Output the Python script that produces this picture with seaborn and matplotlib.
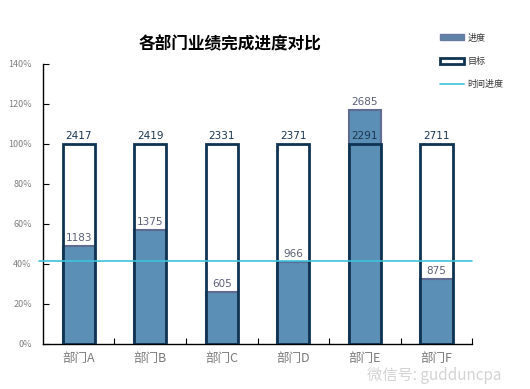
import matplotlib
matplotlib.use("Agg")
import matplotlib.pyplot as plt
import seaborn as sns
import pandas as pd
from matplotlib.patches import Patch
from matplotlib.lines import Line2D
from matplotlib.ticker import PercentFormatter

sns.set_theme(style="white")
plt.rcParams['font.family'] = ['Noto Sans CJK SC', 'DejaVu Sans']

departments = ["部门A", "部门B", "部门C", "部门D", "部门E", "部门F"]
targets = [2417, 2419, 2331, 2371, 2291, 2711]
actuals = [1183, 1375, 605, 966, 2685, 875]
time_progress = 41.5  # percent

progress_pct = [a / t * 100 for a, t in zip(actuals, targets)]
target_pct = [100] * len(targets)
df = pd.DataFrame({"部门": departments, "进度": progress_pct, "目标": target_pct})

fig = plt.figure(figsize=(5.3, 3.89), dpi=100)
ax = fig.add_axes([0.081, 0.1157, 0.81, 0.72])

blue = "#5b8fb5"
blue_edge = "#5f6b92"
dark = "#0f3352"
line_c = "#3cc4dc"

sns.barplot(data=df, x="部门", y="进度", color=blue, width=0.45, ax=ax,
            edgecolor=blue_edge, linewidth=1.5, saturation=1, zorder=2)
sns.barplot(data=df, x="部门", y="目标", width=0.45, ax=ax, fill=False,
            color=dark, linewidth=2, zorder=3)

ax.axhline(time_progress, xmin=-0.008, xmax=1.0, color=line_c, linewidth=1.2,
           zorder=4, clip_on=False)

for i, (a, t, p) in enumerate(zip(actuals, targets, progress_pct)):
    ax.text(i, 101.5, f"{t}", ha="center", va="bottom", fontsize=7.5,
            color="#1c3550", family="DejaVu Sans", zorder=5)
    ax.text(i, p + 1.5, f"{a}", ha="center", va="bottom", fontsize=7.5,
            color="#5a607a", family="DejaVu Sans", zorder=5)

ax.set_ylim(0, 140)
ax.set_yticks(range(0, 141, 20))
ax.yaxis.set_major_formatter(PercentFormatter(decimals=0))
ax.set_xlim(-0.5, 5.5)
ax.set_xticks(range(6))
ax.set_xticklabels(departments)
ax.set_xlabel("")
ax.set_ylabel("")
for s in ["top", "right"]:
    ax.spines[s].set_visible(False)
for s in ["left", "bottom"]:
    ax.spines[s].set_color("black")
    ax.spines[s].set_linewidth(1.0)
ax.tick_params(axis="y", labelsize=6.5, labelcolor="#808080", direction="in",
               length=4, width=0.8, color="black", left=True, pad=8)
ax.tick_params(axis="x", labelsize=9, labelcolor="#7a7a7a", length=0, pad=6)
ax.set_xticks([0.5, 1.5, 2.5, 3.5, 4.5, 5.5], minor=True)
ax.tick_params(axis="x", which="minor", direction="in", length=4, width=0.8,
               color="black", bottom=True)

fig.text(0.435, 0.885, "各部门业绩完成进度对比", ha="center", va="center",
         fontsize=12, fontweight="bold", color="black")

handles = [
    Patch(facecolor="#5f82a8", edgecolor="#6a7aa0", label="进度"),
    Patch(facecolor="white", edgecolor=dark, linewidth=2, label="目标"),
    Line2D([0], [0], color=line_c, linewidth=1.2, label="时间进度"),
]
fig.legend(handles=handles, loc="upper left", bbox_to_anchor=(0.815, 0.935),
           frameon=False, fontsize=6.5, labelcolor="#333333",
           handlelength=2.6, handleheight=0.7, labelspacing=1.6, handletextpad=0.4)

fig.text(0.82, 0.035, "微信号: gudduncpa", ha="center", va="center",
         fontsize=11, color="#d4d4d4", zorder=10)

fig.savefig("out.png", dpi=100, facecolor="white")
